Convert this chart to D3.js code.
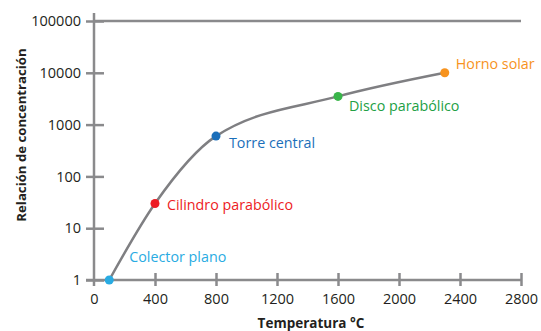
<!DOCTYPE html>
<html>
<head>
<meta charset="utf-8">
<script src="https://cdn.jsdelivr.net/npm/d3@7"></script>
<style>
  body { margin: 0; background: #fff; }
  text { font-family: "Open Sans", "Noto Sans", sans-serif; }
</style>
</head>
<body>
<svg id="chart" width="541" height="331"></svg>
<script>
// data
var names = ["Colector plano", "Cilindro parabólico", "Torre central", "Disco parabólico", "Horno solar"];
var temps = [100, 400, 800, 1600, 2300];
var ratios = [1, 30, 600, 3500, 10000];
var colors = ["#29abe2", "#ed1c24", "#1b6fba", "#39b54a", "#f7931e"];
var textColors = ["#29abe2", "#ed1c24", "#1b6fba", "#22a045", "#f7931e"];
var xTicks = [0, 400, 800, 1200, 1600, 2000, 2400, 2800];
var yTicks = [1, 10, 100, 1000, 10000, 100000];

var svg = d3.select("#chart");
var gray = "#8a8a8c";

var x = d3.scaleLinear().domain([0, 2800]).range([94, 521]);
var y = d3.scaleLog().domain([1, 100000]).range([280, 21]);

// top line at 100000
svg.append("line")
    .attr("x1", x(0)).attr("x2", x(2800))
    .attr("y1", y(100000)).attr("y2", y(100000))
    .attr("stroke", gray).attr("stroke-width", 2.5);

// y axis (ticks on both sides)
var yAxis = svg.append("g")
    .attr("transform", "translate(" + x(0) + ",0)")
    .call(d3.axisLeft(y).tickValues(yTicks).tickFormat(d3.format("d")).tickSizeInner(8).tickSizeOuter(0).tickPadding(5));
yAxis.select(".domain").remove();
yAxis.selectAll(".tick line").attr("x1", 10).attr("x2", -8);
svg.append("line")
    .attr("x1", x(0)).attr("x2", x(0))
    .attr("y1", y(100000) - 8).attr("y2", y(1) + 6)
    .attr("stroke", gray).attr("stroke-width", 2.5);

// x axis (ticks on both sides)
var xAxis = svg.append("g")
    .attr("transform", "translate(0," + y(1) + ")")
    .call(d3.axisBottom(x).tickValues(xTicks).tickFormat(d3.format("d")).tickSizeInner(6).tickSizeOuter(0).tickPadding(8));
xAxis.select(".domain").remove();
xAxis.selectAll(".tick line").attr("y1", -7).attr("y2", 6);
xAxis.selectAll(".tick").filter(function(d) { return d === 0; }).select("line").remove();
svg.append("line")
    .attr("x1", x(0) - 8).attr("x2", x(2800))
    .attr("y1", y(1)).attr("y2", y(1))
    .attr("stroke", gray).attr("stroke-width", 2.5);

svg.selectAll(".tick line").attr("stroke", gray).attr("stroke-width", 2.5);
svg.selectAll(".tick text")
    .attr("fill", "#231f20")
    .style("font-size", "14.5px");

// curve
var pts = temps.map(function(t, i) { return [x(t), y(ratios[i])]; });
svg.append("path")
    .attr("d", d3.line().curve(d3.curveMonotoneX)(pts))
    .attr("fill", "none")
    .attr("stroke", "#7f7f82")
    .attr("stroke-width", 2.5);

// points
svg.selectAll(".pt")
    .data(pts)
    .enter().append("circle")
    .attr("class", "pt")
    .attr("cx", function(d) { return d[0]; })
    .attr("cy", function(d) { return d[1]; })
    .attr("r", 4.5)
    .attr("fill", function(d, i) { return colors[i]; });

// labels
var offsets = [[20, -23], [12, 2], [13, 7], [11, 10], [11, -9]];
svg.selectAll(".lbl")
    .data(pts)
    .enter().append("text")
    .attr("class", "lbl")
    .attr("x", function(d, i) { return d[0] + offsets[i][0]; })
    .attr("y", function(d, i) { return d[1] + offsets[i][1]; })
    .attr("dy", "0.35em")
    .attr("fill", function(d, i) { return textColors[i]; })
    .style("font-size", "14.3px")
    .text(function(d, i) { return names[i]; });

// axis titles
svg.append("text")
    .attr("transform", "translate(21,135) rotate(-90)")
    .attr("text-anchor", "middle")
    .attr("dy", "0.35em")
    .attr("fill", "#231f20")
    .style("font-size", "13.2px")
    .style("font-weight", "bold")
    .text("Relación de concentración");

svg.append("text")
    .attr("x", 311).attr("y", 328)
    .attr("text-anchor", "middle")
    .attr("fill", "#231f20")
    .style("font-size", "13.5px")
    .style("font-weight", "bold")
    .text("Temperatura °C");
</script>
</body>
</html>
